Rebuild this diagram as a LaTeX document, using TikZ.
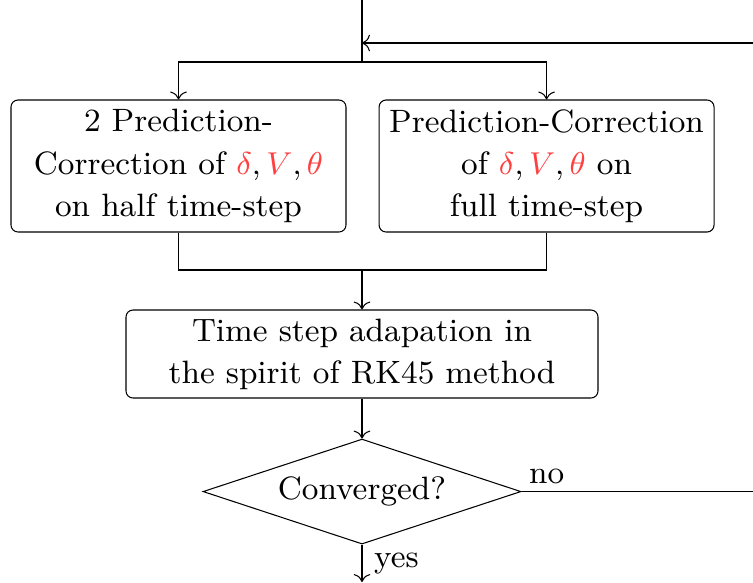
\documentclass[tikz,border=0pt]{standalone}
\usepackage{amsmath,amssymb}
\usepackage{tikz}
\usetikzlibrary{arrows.meta,positioning,shapes.geometric}

\newcommand{\rv}[1]{\textcolor{red!75}{#1}}

\begin{document}
\begin{tikzpicture}[
  font=\fontsize{9.2}{12}\selectfont,
  line width=0.3pt,
  box/.style={draw, rounded corners=2pt, align=center, inner sep=1pt,
    minimum width=3.35cm, minimum height=1.32cm},
  widebox/.style={box, minimum width=4.72cm, minimum height=0.88cm},
  decide/.style={draw, diamond, aspect=3, inner sep=0pt,
    minimum width=3.18cm, minimum height=1.05cm},
  arr/.style={-{To}}
]
\useasboundingbox (0,0) rectangle (7.53,-5.82);
\coordinate (top) at (3.62,0);
\coordinate (split) at (3.62,-0.62);
\coordinate (back) at (3.62,-0.43);
\coordinate (backin) at (7.53,-0.43);
\node[box] (half) at (1.785,-1.66) {2 Prediction-\\Correction of $\rv{\delta},\rv{V},\rv{\theta}$\\on half time-step};
\node[box, right=0.32cm of half] (full) {Prediction-Correction\\of $\rv{\delta},\rv{V},\rv{\theta}$ on\\full time-step};
\coordinate (merge) at (3.62,-2.70);
\node[widebox] (adapt) at (3.62,-3.54) {Time step adapation in\\the spirit of RK45 method};
\node[decide, below=0.4cm of adapt] (conv) {Converged?};
\coordinate (out) at (3.62,-5.82);
\coordinate (noend) at (conv.east -| backin);
\draw (top) -- (split);
\draw[arr] (backin) -- (back);
\draw[arr] (split) -| (half); \draw[arr] (split) -| (full);
\draw (half) |- (merge); \draw (full) |- (merge);
\draw[arr] (merge) -- (adapt);
\draw[arr] (adapt) -- (conv);
\draw[arr] (conv) -- node[right] {yes} (out);
\draw (conv.east) -- node[pos=0, above right, inner sep=2pt] {no} (noend);
\end{tikzpicture}
\end{document}
